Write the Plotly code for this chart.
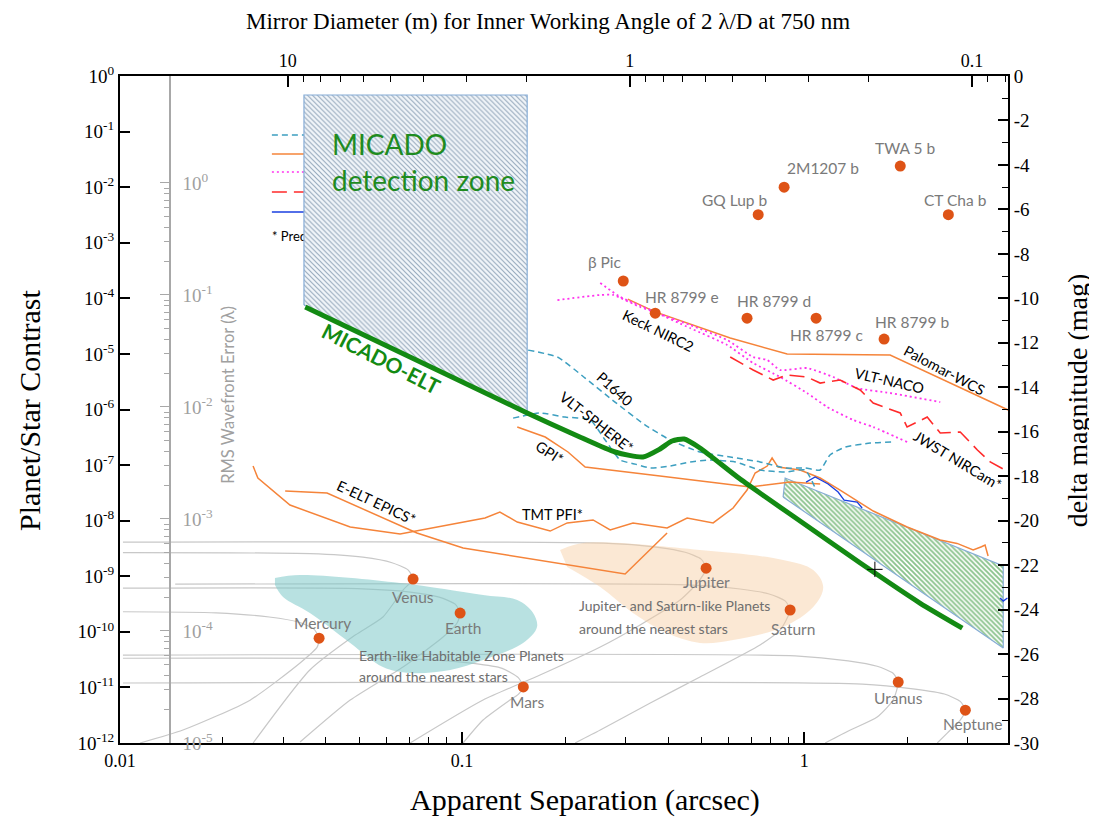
import numpy as np
import plotly.graph_objects as go

# ---------------- data (separation in arcsec, planet/star contrast) ----------------
exo_names = ["TWA 5 b", "2M1207 b", "GQ Lup b", "CT Cha b", "β Pic",
             "HR 8799 e", "HR 8799 d", "HR 8799 c", "HR 8799 b"]
exo_sep = [1.91, 0.874, 0.734, 2.64, 0.296, 0.367, 0.681, 1.084, 1.713]
exo_con = [2.4e-2, 1.0e-2, 3.2e-3, 3.2e-3, 2.05e-4, 5.4e-5, 4.4e-5, 4.4e-5, 1.85e-5]

ss_names = ["Mercury", "Venus", "Earth", "Mars", "Jupiter", "Saturn", "Uranus", "Neptune"]
ss_sep = [0.0382, 0.0719, 0.0987, 0.151, 0.517, 0.910, 1.884, 2.96]
ss_con = [7.7e-11, 8.9e-10, 2.18e-10, 1.02e-11, 1.4e-9, 2.47e-10, 1.25e-11, 3.9e-12]

# orbital-phase tracks of the solar-system planets
mercury_track_sep = [0.0102, 0.0191, 0.0273, 0.0332, 0.0369, 0.0382, 0.0377, 0.0336, 0.0240, 0.01528, 0.01144]
mercury_track_con = [2.3e-10, 2.2e-10, 1.85e-10, 1.5e-10, 1.12e-10, 7.7e-11, 5.3e-11, 2.75e-11, 5.9e-12, 1.71e-12, 1.0e-12]
venus_track_sep = [0.0102, 0.036, 0.0513, 0.0624, 0.0695, 0.0719, 0.0672, 0.0587, 0.0487, 0.0359, 0.0245]
venus_track_con = [2.65e-9, 2.55e-9, 2.2e-9, 1.75e-9, 1.3e-9, 8.9e-10, 5.65e-10, 1.85e-10, 8.75e-11, 2.06e-11, 1.0e-12]
earth_track_sep = [0.0102, 0.0494, 0.0705, 0.0857, 0.0955, 0.0987, 0.0967, 0.088, 0.0672, 0.0471, 0.0336]
earth_track_con = [6.1e-10, 6.0e-10, 5.2e-10, 4.2e-10, 3.15e-10, 2.18e-10, 1.44e-10, 8.05e-11, 2.33e-11, 5.93e-12, 1.04e-12]
mars_track_sep = [0.0102, 0.0755, 0.108, 0.131, 0.146, 0.151, 0.146, 0.138, 0.1152, 0.1007]
mars_track_con = [3.35e-11, 3.2e-11, 2.7e-11, 2.2e-11, 1.5e-11, 1.02e-11, 7.5e-12, 5.93e-12, 2.59e-12, 1.0e-12]
jupiter_track_sep = [0.0102, 0.2585, 0.369, 0.449, 0.500, 0.517, 0.49, 0.434, 0.3315, 0.2535, 0.169, 0.1152, 0.0705]
jupiter_track_con = [4.1e-9, 3.95e-9, 3.35e-9, 2.7e-9, 2.03e-9, 1.4e-9, 7.87e-10, 3.73e-10, 1.33e-10, 5.33e-11, 1.67e-11, 5.93e-12, 1.0e-12]
saturn_track_sep = [0.0145, 0.455, 0.65, 0.79, 0.88, 0.910, 0.851, 0.743, 0.496, 0.355, 0.2535, 0.214]
saturn_track_con = [7.2e-10, 7.0e-10, 5.9e-10, 4.8e-10, 3.6e-10, 2.47e-10, 1.08e-10, 5.8e-11, 1.54e-11, 5.24e-12, 1.71e-12, 1.0e-12]
uranus_track_sep = [0.0102, 0.942, 1.345, 1.635, 1.82, 1.884, 1.82, 1.635, 1.365, 1.152]
uranus_track_con = [3.8e-11, 3.7e-11, 3.0e-11, 2.4e-11, 1.8e-11, 1.25e-11, 5.93e-12, 2.93e-12, 1.71e-12, 1.0e-12]
neptune_track_sep = [0.0102, 1.48, 2.11, 2.57, 2.86, 2.96, 2.86, 2.62, 2.45]
neptune_track_con = [1.2e-11, 1.15e-11, 9.3e-12, 7.6e-12, 5.6e-12, 3.9e-12, 2.59e-12, 1.51e-12, 1.0e-12]

# shaded populations
earthlike_sep = [0.02838, 0.0336, 0.0659, 0.1152, 0.145, 0.1613, 0.1656, 0.1508, 0.1152, 0.0923, 0.0705, 0.0587, 0.0471, 0.0359, 0.02997, 0.02838]
earthlike_con = [9.29e-10, 1.05e-9, 7.55e-10, 4.6e-10, 3.73e-10, 2.18e-10, 1.22e-10, 6.3e-11, 3.11e-11, 2.06e-11, 1.82e-11, 2.33e-11, 6.3e-11, 2.18e-10, 4.23e-10, 6.95e-10]
jupiterlike_sep = [0.1934, 0.2258, 0.496, 0.868, 1.063, 1.137, 1.063, 0.868, 0.62, 0.496, 0.3975, 0.316, 0.2535, 0.203]
jupiterlike_con = [2.96e-9, 3.96e-9, 2.96e-9, 1.96e-9, 1.29e-9, 6.4e-10, 2.79e-10, 1.22e-10, 7.1e-11, 6.3e-11, 9.5e-11, 2.18e-10, 6.4e-10, 1.47e-9]

# MICADO zones
micado_zone_sep = [0.0345, 0.0345, 0.155, 0.155, 0.0345]
micado_zone_con = [7.6e-5, 0.455, 0.455, 9.0e-7, 7.6e-5]
green_zone_sep = [0.868, 0.880, 3.82, 3.82, 0.868]
green_zone_con = [2.66e-8, 5.85e-8, 1.53e-9, 5.1e-11, 2.66e-8]

micado_elt_sep = [0.0348, 0.155, 0.221, 0.280, 0.338, 0.379, 0.411, 0.446, 0.496, 0.650, 0.973, 1.459, 2.18, 2.90]
micado_elt_con = [6.98e-5, 8.65e-7, 3.2e-7, 1.72e-7, 1.40e-7, 1.95e-7, 2.71e-7, 2.94e-7, 2.03e-7, 5.6e-8, 9.86e-9, 1.73e-9, 3.3e-10, 1.17e-10]

# instrument contrast curves
p1640_sep = [0.156, 0.190, 0.229, 0.280, 0.343, 0.406, 0.496, 0.608, 0.743, 0.880, 1.007, 1.114, 1.19, 1.318, 1.56, 1.81]
p1640_con = [1.17e-5, 8.8e-6, 3.68e-6, 1.36e-6, 5.26e-7, 2.82e-7, 1.72e-7, 1.40e-7, 1.14e-7, 8.85e-8, 8.85e-8, 8.15e-8, 1.52e-7, 2.11e-7, 2.49e-7, 2.60e-7]
sphere_sep = [0.141, 0.169, 0.200, 0.237, 0.262, 0.290, 0.321, 0.355, 0.406, 0.464, 0.531, 0.629, 0.743, 0.880, 1.007, 1.077]
sphere_con = [7.0e-7, 8.65e-7, 7.3e-7, 6.5e-7, 2.82e-7, 1.23e-7, 1.04e-7, 8.85e-8, 9.6e-8, 1.14e-7, 1.23e-7, 1.14e-7, 8.15e-8, 7.5e-8, 8.15e-8, 3.87e-8]
palomar_sep = [0.305, 0.367, 0.608, 0.892, 1.784, 2.764, 3.95]
palomar_con = [9.7e-5, 5.7e-5, 1.93e-5, 9.96e-6, 9.55e-6, 2.75e-6, 9.8e-7]
gpi_sep = [0.145, 0.175, 0.204, 0.229, 0.379, 0.695, 0.910, 1.114]
gpi_con = [4.84e-7, 3.2e-7, 1.72e-7, 9.2e-8, 6.36e-8, 4.03e-8, 4.95e-8, 4.56e-8]
epics_sep = [0.0304, 0.0403, 0.0738, 0.1007, 0.2997, 0.3975]
epics_con = [3.41e-8, 3.14e-8, 6.0e-9, 3.22e-9, 1.10e-9, 6.0e-9]
tmt_sep = [0.02449, 0.0253, 0.0314, 0.0471, 0.0659, 0.0923, 0.1167, 0.129, 0.145, 0.181, 0.203, 0.2415,
           0.271, 0.316, 0.3975, 0.455, 0.542, 0.62, 0.681, 0.719, 0.780, 0.806, 0.839, 0.973, 1.114,
           1.274, 1.592, 2.0, 2.5, 2.8, 3.12, 3.3, 3.38, 3.45]
tmt_con = [9.6e-8, 5.85e-8, 1.91e-8, 7.69e-9, 5.75e-9, 8.35e-9, 1.115e-8, 1.43e-8, 9.45e-9, 6.5e-9, 9.1e-9, 1.03e-8,
           6.8e-9, 9.1e-9, 7.4e-9, 1.115e-8, 9.1e-9, 1.69e-8, 3.56e-8, 7.2e-8, 9.6e-8, 1.34e-7, 9.2e-8, 8.15e-8, 5.85e-8,
           3.56e-8, 1.49e-8, 7.69e-9, 4.49e-9, 3.9e-9, 2.96e-9, 3.4e-9, 3.65e-9, 2.31e-9]
naco1_sep = [0.190, 0.2535, 0.2764, 0.3315, 0.3715, 0.464, 0.5955, 0.7096, 0.78, 0.851, 1.02, 1.216, 1.429, 1.784, 2.50]
naco1_con = [9.3e-5, 1.15e-4, 1.15e-4, 6.98e-5, 5.45e-5, 3.31e-5, 1.78e-5, 8.8e-6, 7.76e-6, 5.13e-6, 5.57e-6, 3.84e-6, 2.43e-6, 1.98e-6, 1.36e-6]
naco2_sep = [0.2535, 0.29, 0.355, 0.464, 0.5955, 0.7096, 0.851, 1.02, 1.168, 1.391, 1.592, 2.0]
naco2_con = [1.89e-4, 1.06e-4, 6.17e-5, 2.92e-5, 1.45e-5, 6.86e-6, 3.84e-6, 1.98e-6, 1.11e-6, 6.47e-7, 4.84e-7, 2.6e-7]
jwst_sep = [0.608, 0.7096, 0.812, 0.892, 1.02, 1.114, 1.274, 1.458, 1.592, 1.91, 2.0, 2.29, 2.50, 2.86, 3.21, 3.50, 3.87]
jwst_con = [8.8e-6, 5.13e-6, 3.39e-6, 4.17e-6, 3.84e-6, 2.99e-6, 3.39e-6, 2.24e-6, 1.31e-6, 8.65e-7, 4.84e-7, 7.3e-7, 3.78e-7, 3.94e-7, 1.87e-7, 1.14e-7, 8.15e-8]
blue_sep = [1.013, 1.077, 1.175, 1.257, 1.309, 1.429, 1.478]
blue_con = [4.95e-8, 6.1e-8, 4.56e-8, 3.27e-8, 2.35e-8, 2.16e-8, 1.69e-8]
blue_edge_sep = [3.74, 3.82, 3.93]
blue_edge_con = [4.06e-10, 3.58e-10, 4.06e-10]

# small cross mark near the MICADO-ELT curve
cross_sep = [1.61]
cross_con = [1.33e-9]

# legend samples (partly hidden under the MICADO zone)
legend_sep = [0.0278, 0.0345]
legend_con = [0.0868, 0.0395, 0.01875, 8.2e-3, 3.57e-3]
legend_note_sep = 0.0278
legend_note_con = 1.22e-3

# axis ticks
contrast_ticks = [10.0 ** -k for k in range(13)]
rms_ticks = [10.0 ** -k for k in range(6)]
mag_ticks = list(range(0, -31, -2))
sep_ticks = [0.01, 0.1, 1]
diam_ticks = [10, 1, 0.1]

# ---------------- figure ----------------
fig = go.Figure()
NOHOVER = dict(hoverinfo="skip", showlegend=False)

TRACK = "#c8c8c8"
for s, c in [(mercury_track_sep, mercury_track_con), (venus_track_sep, venus_track_con),
             (earth_track_sep, earth_track_con), (mars_track_sep, mars_track_con),
             (jupiter_track_sep, jupiter_track_con), (saturn_track_sep, saturn_track_con),
             (uranus_track_sep, uranus_track_con), (neptune_track_sep, neptune_track_con)]:
    fig.add_trace(go.Scatter(x=s, y=c, mode="lines",
                             line=dict(color=TRACK, width=1.2, shape="spline", smoothing=0.6), **NOHOVER))

fig.add_trace(go.Scatter(x=earthlike_sep, y=earthlike_con, mode="lines", fill="toself",
                         fillcolor="rgba(125,200,200,0.55)",
                         line=dict(width=0, shape="spline", color="rgba(0,0,0,0)"), **NOHOVER))
fig.add_trace(go.Scatter(x=jupiterlike_sep, y=jupiterlike_con, mode="lines", fill="toself",
                         fillcolor="rgba(246,205,160,0.45)",
                         line=dict(width=0, shape="spline", color="rgba(0,0,0,0)"), **NOHOVER))

# legend sample lines and note (covered by the zone)
leg_styles = [("#3d9fc0", "6px,4px"), ("#f5843a", "solid"), ("#ff33ee", "2px,3px"),
              ("#ff2a2a", "15px,7px"), ("#1a3fe0", "solid")]
for c, (col, dsh) in zip(legend_con, leg_styles):
    fig.add_trace(go.Scatter(x=legend_sep, y=[c, c], mode="lines",
                             line=dict(color=col, width=1.5, dash=dsh), **NOHOVER))
fig.add_trace(go.Scatter(x=[legend_note_sep], y=[legend_note_con], mode="text",
                         text=["* Predicted performance"], textposition="middle right",
                         textfont=dict(family="Lato", size=13, color="black"), **NOHOVER))

# MICADO zones
fig.add_trace(go.Scatter(x=micado_zone_sep, y=micado_zone_con, mode="lines", fill="toself",
                         fillpattern=dict(shape="\\", fgcolor="#3d5f80", bgcolor="#f2f6fa",
                                          size=3.5, solidity=0.33),
                         line=dict(color="#86acd6", width=1.2), **NOHOVER))
fig.add_trace(go.Scatter(x=green_zone_sep, y=green_zone_con, mode="lines", fill="toself",
                         fillpattern=dict(shape="\\", fgcolor="#16861a", bgcolor="#ffffff",
                                          size=3.5, solidity=0.55),
                         line=dict(color="#86acd6", width=1.2), **NOHOVER))

# instrument curves
ORANGE = "#f5843a"
TEAL = "#3d9fc0"
MAG = "#ff33ee"
for s, c in [(palomar_sep, palomar_con), (gpi_sep, gpi_con), (epics_sep, epics_con), (tmt_sep, tmt_con)]:
    fig.add_trace(go.Scatter(x=s, y=c, mode="lines", line=dict(color=ORANGE, width=1.5), **NOHOVER))
for s, c in [(p1640_sep, p1640_con), (sphere_sep, sphere_con)]:
    fig.add_trace(go.Scatter(x=s, y=c, mode="lines",
                             line=dict(color=TEAL, width=1.5, dash="6px,4px", shape="spline", smoothing=0.5), **NOHOVER))
for s, c in [(naco1_sep, naco1_con), (naco2_sep, naco2_con)]:
    fig.add_trace(go.Scatter(x=s, y=c, mode="lines",
                             line=dict(color=MAG, width=1.8, dash="2px,3px", shape="spline", smoothing=0.5), **NOHOVER))
fig.add_trace(go.Scatter(x=jwst_sep, y=jwst_con, mode="lines",
                         line=dict(color="#ff2a2a", width=1.6, dash="15px,7px"), **NOHOVER))
for s, c in [(blue_sep, blue_con), (blue_edge_sep, blue_edge_con)]:
    fig.add_trace(go.Scatter(x=s, y=c, mode="lines", line=dict(color="#1a3fe0", width=1.3), **NOHOVER))

# MICADO-ELT curve
fig.add_trace(go.Scatter(x=micado_elt_sep, y=micado_elt_con, mode="lines",
                         line=dict(color="#138a13", width=5, shape="spline", smoothing=0.6), **NOHOVER))
fig.add_trace(go.Scatter(x=cross_sep, y=cross_con, mode="markers",
                         marker=dict(symbol="cross-thin", size=11, line=dict(color="black", width=1)), **NOHOVER))

# planets
DOT = "#de5316"
fig.add_trace(go.Scatter(x=exo_sep, y=exo_con, mode="markers",
                         marker=dict(color=DOT, size=11), **NOHOVER))
fig.add_trace(go.Scatter(x=ss_sep, y=ss_con, mode="markers",
                         marker=dict(color=DOT, size=11), **NOHOVER))

# dummy traces to instantiate secondary axes
fig.add_trace(go.Scatter(x=[1], y=[1e-6], xaxis="x2", yaxis="y", mode="markers",
                         marker=dict(opacity=0), **NOHOVER))
fig.add_trace(go.Scatter(x=[0.1], y=[0.01], xaxis="x", yaxis="y2", mode="markers",
                         marker=dict(opacity=0), **NOHOVER))
fig.add_trace(go.Scatter(x=[0.1], y=[-10], xaxis="x", yaxis="y3", mode="markers",
                         marker=dict(opacity=0), **NOHOVER))

# ---------------- annotations ----------------
ann = []
GRAYTXT = "#7a7a7a"
exo_offsets = {"TWA 5 b": (5, 18), "2M1207 b": (39, 19), "GQ Lup b": (-23, 15), "CT Cha b": (7, 15),
               "β Pic": (-18, 19), "HR 8799 e": (27, 16), "HR 8799 d": (27, 17),
               "HR 8799 c": (10, -17), "HR 8799 b": (28, 17)}
ss_offsets = {"Mercury": (3, 15), "Venus": (0, -18), "Earth": (3, -15), "Mars": (4, -15),
              "Jupiter": (0, -14), "Saturn": (3, -19), "Uranus": (0, -16), "Neptune": (7, -14)}
for names, seps, cons, offs in [(exo_names, exo_sep, exo_con, exo_offsets),
                                (ss_names, ss_sep, ss_con, ss_offsets)]:
    for n, s, c in zip(names, seps, cons):
        dx, dy = offs[n]
        ann.append(dict(x=np.log10(s), y=np.log10(c), xref="x", yref="y", text=n, showarrow=False,
                        xanchor="center", yanchor="middle",
                        xshift=dx, yshift=dy, font=dict(family="Lato", size=15.5, color=GRAYTXT)))

curve_labels = [("Keck NIRC2", 0.606, 0.619, 26), ("Palomar-WCS", 0.929, 0.559, 28),
                ("VLT-NACO", 0.866, 0.543, 13), ("JWST NIRCam*", 0.944, 0.424, 31),
                ("P1640", 0.557, 0.532, 42), ("VLT-SPHERE*", 0.537, 0.480, 38),
                ("GPI*", 0.484, 0.436, 33), ("E-ELT EPICS*", 0.289, 0.361, 25),
                ("TMT PFI*", 0.4865, 0.343, 0)]
for t, x, y, a in curve_labels:
    ann.append(dict(x=x, y=y, xref="paper", yref="paper", text=t, showarrow=False, textangle=a,
                    xanchor="center", yanchor="middle",
                    font=dict(family="Lato", size=14.5, color="black")))

ann.append(dict(x=0.295, y=0.577, xref="paper", yref="paper", text="<b>MICADO-ELT</b>", showarrow=False,
                textangle=27, xanchor="center", yanchor="middle",
                font=dict(family="Lato", size=21, color="#138a13")))
ann.append(dict(x=0.2365, y=0.871, xref="paper", yref="paper", text="MICADO<br>detection zone",
                showarrow=False, xanchor="left", yanchor="middle", align="left",
                font=dict(family="Lato", size=28, color="#1f8b1f")))

for t, x, y in [("Earth-like Habitable Zone Planets", 0.2669, 0.1319),
                ("around the nearest stars", 0.2669, 0.0990),
                ("Jupiter- and Saturn-like Planets", 0.5146, 0.2054),
                ("around the nearest stars", 0.5146, 0.1724)]:
    ann.append(dict(x=x, y=y, xref="paper", yref="paper", text=t, showarrow=False,
                    xanchor="left", yanchor="middle",
                    font=dict(family="Lato", size=14, color="#6e6e6e")))

SERIF = "Liberation Serif"
ann.append(dict(x=0.482, y=1.081, xref="paper", yref="paper", showarrow=False,
                xanchor="center", yanchor="middle",
                text="Mirror Diameter (m) for Inner Working Angle of 2 λ/D at 750 nm",
                font=dict(family=SERIF, size=23, color="black")))
ann.append(dict(x=0.524, y=-0.0855, xref="paper", yref="paper", showarrow=False,
                xanchor="center", yanchor="middle",
                text="Apparent Separation (arcsec)", font=dict(family=SERIF, size=30, color="black")))
ann.append(dict(x=-0.1014, y=0.4993, xref="paper", yref="paper", showarrow=False, textangle=-90,
                xanchor="center", yanchor="middle",
                text="Planet/Star Contrast", font=dict(family=SERIF, size=30, color="black")))
ann.append(dict(x=1.0777, y=0.514, xref="paper", yref="paper", showarrow=False, textangle=-90,
                xanchor="center", yanchor="middle",
                text="delta magnitude (mag)", font=dict(family=SERIF, size=28, color="black")))
ann.append(dict(x=0.1216, y=0.522, xref="paper", yref="paper", showarrow=False, textangle=-90,
                xanchor="center", yanchor="middle",
                text="RMS Wavefront Error (λ)", font=dict(family="Lato", size=16.5, color="#a0a0a0")))

# ---------------- axes ----------------
def pow_text(v):
    e = int(round(np.log10(v)))
    return "10<sup>%d</sup>" % e

minor_sep = [m * 10.0 ** k for k in (-2, -1, 0) for m in range(2, 10) if m * 10.0 ** k < 3.9]
minor_diam = [m * 10.0 ** k for k in (-2, -1, 0) for m in range(2, 10) if 0.079 < m * 10.0 ** k < 10]
minor_rms = [m * 10.0 ** k for k in range(-5, 0) for m in range(2, 10)]
minor_mag = list(range(-1, -30, -2))

# the page body has an 8px margin: shrink the figure so the plot area lands where the reference has it
fig.update_layout(
    width=1089, height=813, margin=dict(l=112, r=89, t=68, b=78),
    paper_bgcolor="white", plot_bgcolor="white", showlegend=False,
    font=dict(family=SERIF, color="black"),
    annotations=ann,
    xaxis=dict(type="log", range=[-2, 0.596], showgrid=False, zeroline=False,
               showline=True, linecolor="black", linewidth=2,
               ticks="inside", ticklen=11, tickwidth=1.5, tickcolor="black",
               tickmode="array", tickvals=sep_ticks, ticktext=["0.01", "0.1", "1"],
               tickfont=dict(family=SERIF, size=18, color="black"),
               minor=dict(tickmode="array", tickvals=minor_sep, ticks="inside", ticklen=6,
                          tickwidth=1.2, tickcolor="black", showgrid=False)),
    xaxis2=dict(type="log", overlaying="x", side="top", anchor="y", range=[1.4905, -1.1055],
                showgrid=False, zeroline=False, showline=True, linecolor="black", linewidth=2,
                ticks="inside", ticklen=11, tickwidth=1.5, tickcolor="black",
                tickmode="array", tickvals=diam_ticks, ticktext=["10", "1", "0.1"],
                tickfont=dict(family=SERIF, size=18, color="black"),
                minor=dict(tickmode="array", tickvals=minor_diam, ticks="inside", ticklen=6,
                           tickwidth=1.2, tickcolor="black", showgrid=False)),
    yaxis=dict(type="log", range=[-12, 0], showgrid=False, zeroline=False,
               showline=True, linecolor="black", linewidth=2,
               ticks="inside", ticklen=10, tickwidth=1.5, tickcolor="black",
               tickmode="array", tickvals=contrast_ticks, ticktext=[pow_text(v) for v in contrast_ticks],
               tickfont=dict(family=SERIF, size=19, color="black")),
    yaxis2=dict(type="log", overlaying="y", anchor="free", position=0.0563, side="right",
                range=[-5, 0.955], showgrid=False, zeroline=False,
                showline=True, linecolor="#a8a8a8", linewidth=1.5,
                ticks="inside", ticklen=9, tickwidth=1.2, tickcolor="#a8a8a8",
                ticklabelstandoff=8,
                tickmode="array", tickvals=rms_ticks, ticktext=[pow_text(v) for v in rms_ticks],
                tickfont=dict(family=SERIF, size=19, color="#a0a0a0"),
                minor=dict(tickmode="array", tickvals=minor_rms, ticks="inside", ticklen=5,
                           tickwidth=1, tickcolor="#a8a8a8", showgrid=False)),
    yaxis3=dict(overlaying="y", anchor="x", side="right", range=[-30, 0],
                showgrid=False, zeroline=False, showline=True, linecolor="black", linewidth=2,
                ticks="inside", ticklen=10, tickwidth=1.5, tickcolor="black",
                tickmode="array", tickvals=mag_ticks, ticktext=[str(v) for v in mag_ticks],
                tickfont=dict(family=SERIF, size=19, color="black"),
                minor=dict(tickmode="array", tickvals=minor_mag, ticks="inside", ticklen=6,
                           tickwidth=1.2, tickcolor="black", showgrid=False)),
)

fig.write_html("out.html")
